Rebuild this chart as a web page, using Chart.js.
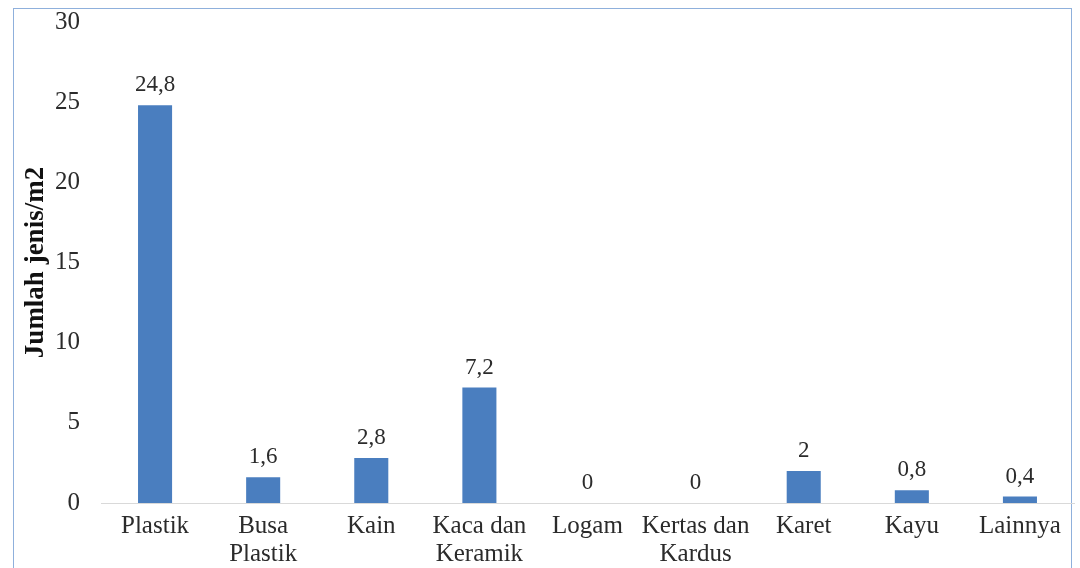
<!DOCTYPE html>
<html>
<head>
<meta charset="utf-8">
<script src="https://cdn.jsdelivr.net/npm/chart.js@4"></script>
<style>
  html, body { margin: 0; padding: 0; background: #fff; overflow: hidden; }
  #wrap { position: relative; width: 1080px; height: 568px; }
  #frame {
    position: absolute; left: 13px; top: 8px; width: 1057px; height: 600px;
    border: 1px solid #8fb0dc;
  }
  #bar-chart { position: absolute; left: 0; top: 0; }
</style>
</head>
<body>
<div id="wrap">
  <div id="frame"></div>
  <canvas id="bar-chart" width="1080" height="568"></canvas>
</div>
<script>
// Kategori sampah dan jumlah jenis per m2
const categories = [
  ["Plastik"],
  ["Busa", "Plastik"],
  ["Kain"],
  ["Kaca dan", "Keramik"],
  ["Logam"],
  ["Kertas dan", "Kardus"],
  ["Karet"],
  ["Kayu"],
  ["Lainnya"],
];
const jumlahJenis = [24.8, 1.6, 2.8, 7.2, 0, 0, 2, 0.8, 0.4];
const yTicks = [0, 5, 10, 15, 20, 25, 30];

const serif = "'Liberation Serif', 'Times New Roman', serif";

// Draw value labels above each bar, with a decimal comma
const valueLabels = {
  id: "valueLabels",
  afterDatasetsDraw(chart) {
    const ctx = chart.ctx;
    const meta = chart.getDatasetMeta(0);
    ctx.save();
    ctx.font = "23px " + serif;
    ctx.fillStyle = "#2b2b2b";
    ctx.textAlign = "center";
    ctx.textBaseline = "middle";
    meta.data.forEach((bar, i) => {
      const text = String(jumlahJenis[i]).replace(".", ",");
      ctx.fillText(text, bar.x, bar.y - 20);
    });
    ctx.restore();
  },
};

const barChartCtx = document.getElementById("bar-chart").getContext("2d");

const barChart = new Chart(barChartCtx, {
  type: "bar",
  data: {
    labels: categories,
    datasets: [
      {
        label: "Jumlah jenis/m2",
        data: jumlahJenis,
        backgroundColor: "#4a7ebf",
        barPercentage: 0.63,
        categoryPercentage: 0.5,
      },
    ],
  },
  options: {
    responsive: false,
    animation: false,
    layout: { padding: { top: 22, right: 6, bottom: 0, left: 0 } },
    plugins: {
      legend: { display: false },
      tooltip: { enabled: false },
    },
    scales: {
      x: {
        grid: { display: false, drawTicks: false },
        border: { display: true, color: "#d9d9d9", width: 1 },
        ticks: {
          color: "#2b2b2b",
          padding: 10,
          maxRotation: 0,
          autoSkip: false,
          font: { family: serif, size: 25, lineHeight: 1.1 },
        },
        afterFit(scale) {
          scale.height = 65;
          scale.paddingLeft = 0;
          scale.paddingRight = 0;
        },
      },
      y: {
        min: 0,
        max: 30,
        afterBuildTicks(scale) {
          scale.ticks = yTicks.map((v) => ({ value: v }));
        },
        grid: { display: false, drawTicks: false },
        border: { display: false },
        ticks: {
          color: "#2b2b2b",
          padding: 21,
          font: { family: serif, size: 25 },
        },
        title: {
          display: true,
          text: "Jumlah jenis/m2",
          color: "#111",
          padding: { top: 20, bottom: 0 },
          font: { family: serif, size: 27, weight: "bold" },
        },
        afterFit(scale) {
          scale.width = 101;
          scale.paddingTop = 0;
          scale.paddingBottom = 0;
        },
      },
    },
  },
  plugins: [valueLabels],
});
</script>
</body>
</html>
